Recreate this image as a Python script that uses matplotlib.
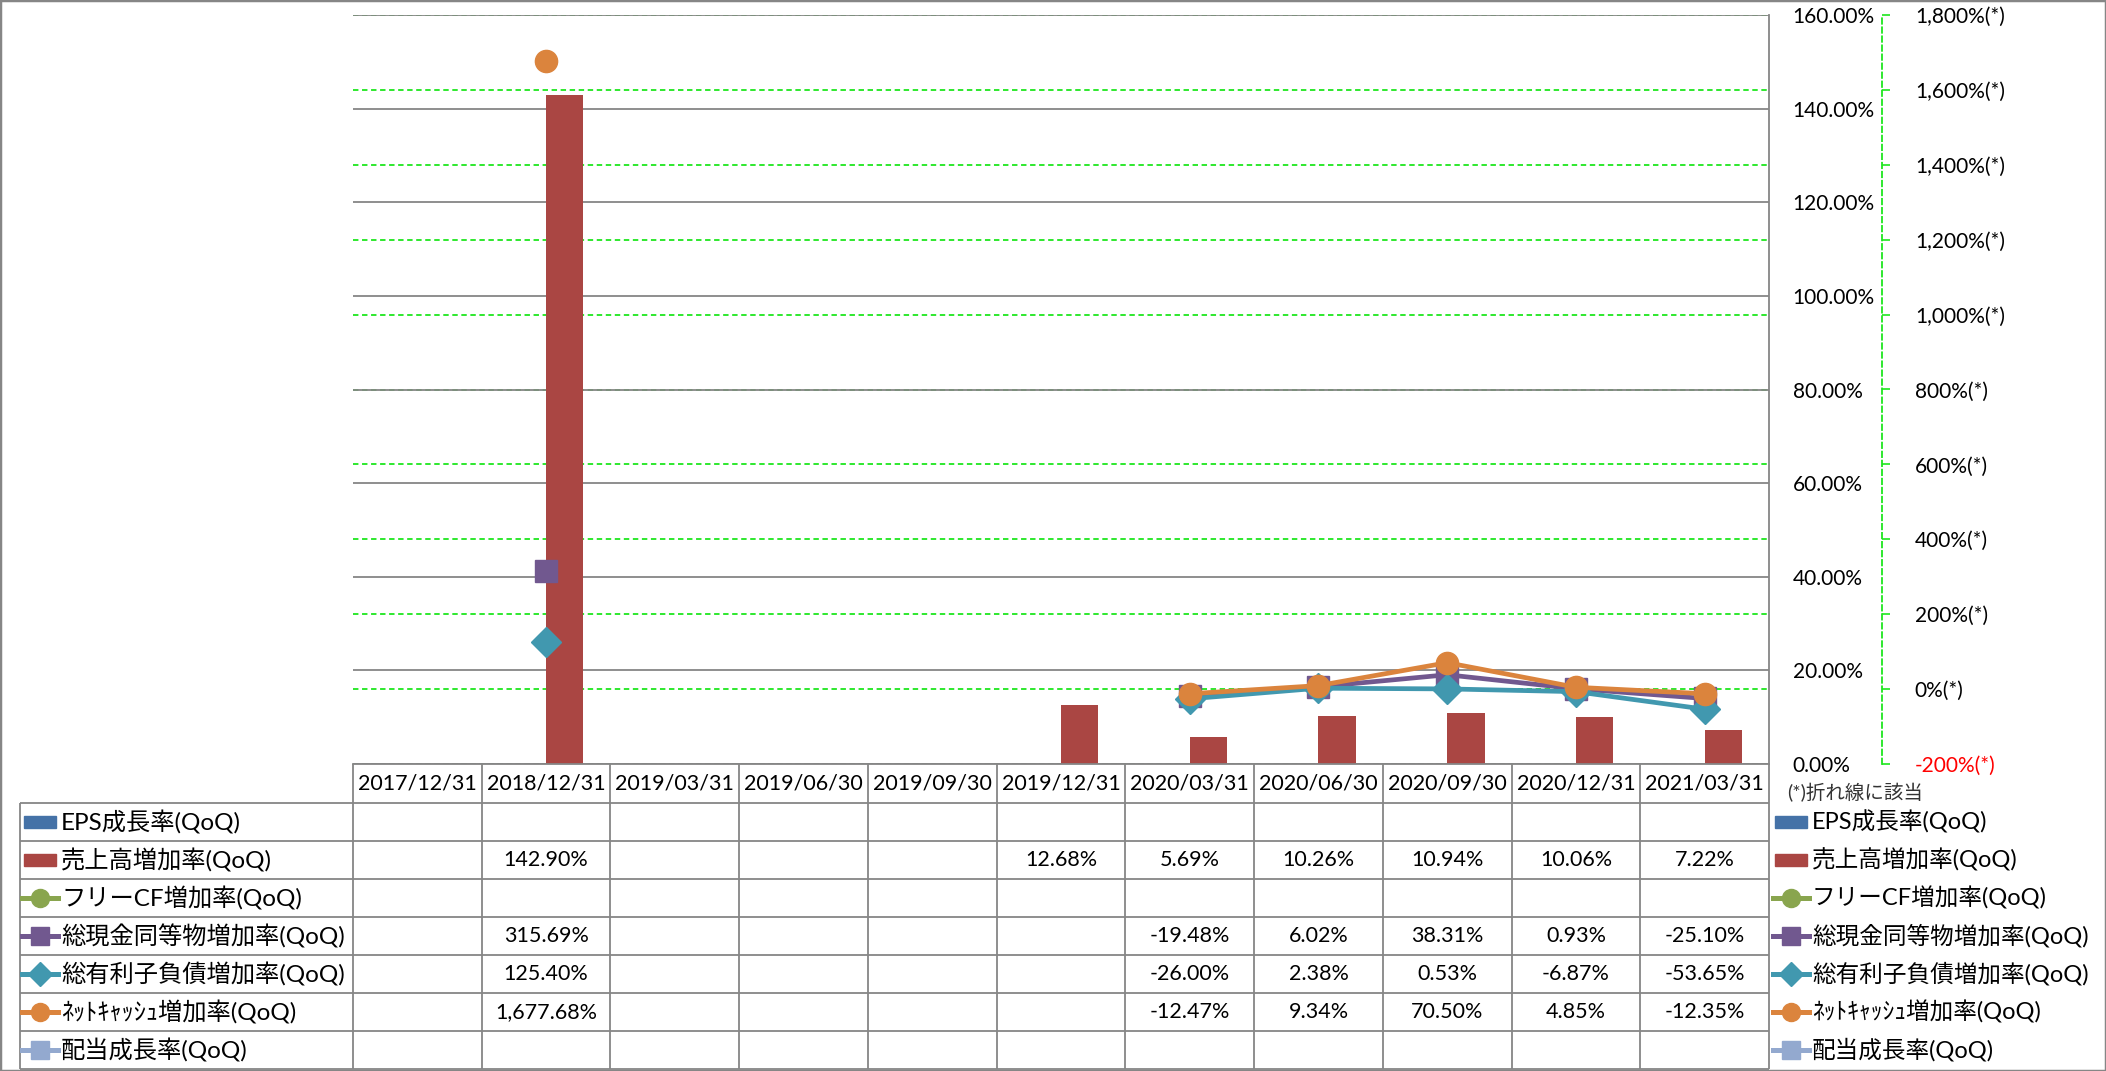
import numpy as np
import matplotlib
matplotlib.use('Agg')
import matplotlib.pyplot as plt
import matplotlib.patches as mpatches
import matplotlib.transforms as mtransforms

plt.rcParams['font.family'] = ['Lato', 'Noto Sans CJK JP', 'DejaVu Sans']

nan = np.nan
dates = ['2017/12/31', '2018/12/31', '2019/03/31', '2019/06/30', '2019/09/30', '2019/12/31',
         '2020/03/31', '2020/06/30', '2020/09/30', '2020/12/31', '2021/03/31']
eps_growth = [nan] * 11
sales_growth = [nan, 142.90, nan, nan, nan, 12.68, 5.69, 10.26, 10.94, 10.06, 7.22]
fcf_growth = [nan] * 11
cash_growth = [nan, 315.69, nan, nan, nan, nan, -19.48, 6.02, 38.31, 0.93, -25.10]
debt_growth = [nan, 125.40, nan, nan, nan, nan, -26.00, 2.38, 0.53, -6.87, -53.65]
netcash_growth = [nan, 1677.68, nan, nan, nan, nan, -12.47, 9.34, 70.50, 4.85, -12.35]
div_growth = [nan] * 11

names = ['EPS成長率(QoQ)', '売上高増加率(QoQ)', 'フリーCF増加率(QoQ)', '総現金同等物増加率(QoQ)',
         '総有利子負債増加率(QoQ)', 'ﾈｯﾄｷｬｯｼｭ増加率(QoQ)', '配当成長率(QoQ)']
colors = ['#4572A7', '#AA4643', '#89A54E', '#71588F', '#4198AF', '#DB843D', '#93A9CF']
kinds = ['bar', 'bar', 'o', 's', 'D', 'o', 's']
series = [eps_growth, sales_growth, fcf_growth, cash_growth, debt_growth, netcash_growth, div_growth]

W, H = 2106, 1071
fig = plt.figure(figsize=(W / 100, H / 100), dpi=100)
rect = [353 / W, 1 - 764 / H, (1769 - 353) / W, (764 - 15) / H]
grey = '#868686'
green = '#1EE61E'

# green grid of the secondary scale, kept behind the bars
ax_g = fig.add_axes(rect)
ax_g.set_ylim(-200, 1800)
ax_g.set_yticks(np.arange(-200, 1801, 200))
ax_g.set_xticks([])
ax_g.tick_params(length=0, labelleft=False)
ax_g.grid(axis='y', color=green, lw=1.3, linestyle=(0, (3, 2)))
for s in ax_g.spines.values():
    s.set_visible(False)

ax = fig.add_axes(rect)
ax.patch.set_visible(False)
ax.set_ylim(0, 160)
ax.set_xticks([])
ax.set_axisbelow(True)
ax.grid(axis='y', color=grey, lw=1.3)
for k in ['left', 'top']:
    ax.spines[k].set_visible(False)
ax.spines['right'].set_color(grey)
ax.spines['bottom'].set_color(grey)
ax.spines['right'].set_linewidth(1.3)
ax.spines['bottom'].set_linewidth(1.3)

idx = np.arange(len(dates))
bw = 0.29
ax.bar(idx - bw, eps_growth, bw, align='edge', color=colors[0])
ax.bar(idx, sales_growth, bw, align='edge', color=colors[1])

ax2 = ax.twinx()
ax2.spines['right'].set_position(('outward', 81))
ax2.spines['right'].set_color(green)
ax2.spines['right'].set_linestyle((0, (3, 2)))
ax2.spines['right'].set_linewidth(1.3)
for k in ['left', 'top', 'bottom']:
    ax2.spines[k].set_visible(False)

# primary axis labels sit on the right (twinx moved them left)
ax.yaxis.tick_right()
prim_ticks = np.arange(0, 161, 20)
ax.set_yticks(prim_ticks)
ax.set_yticklabels(['%.2f%%' % v for v in prim_ticks])
ax.tick_params(axis='y', length=0, pad=17, labelsize=15, labelleft=False, labelright=True)

ax2.set_ylim(-200, 1800)
sec_ticks = np.arange(-200, 1801, 200)
ax2.set_yticks(sec_ticks)
ax2.set_yticklabels(['{:,}%(*)'.format(v) for v in sec_ticks])
ax2.tick_params(axis='y', color=green, length=6, width=1.2, pad=18, labelsize=15)

for vals, c, m in zip(series[2:], colors[2:], kinds[2:]):
    ms = 15 if m == 'D' else 16
    ax2.plot(idx, vals, color=c, marker=m, lw=3.4, ms=ms, clip_on=False)

ax.set_xlim(-0.5, len(dates) - 0.5)
ax2.set_xlim(-0.5, len(dates) - 0.5)
ax_g.set_xlim(-0.5, len(dates) - 0.5)

# table below the plot (x from categories, y in figure pixels)
tpx = mtransforms.Affine2D().scale(1 / W, -1 / H).translate(0, 1) + fig.transFigure
bt = mtransforms.blended_transform_factory(ax.transData, tpx)
col_w = (1769 - 353) / len(dates)
x_left = -0.5 - (353 - 20) / col_w
top, head_b, row_h = 764, 803, 38
bottom = head_b + row_h * len(names)

lk = dict(color=grey, lw=1.3, clip_on=False, solid_capstyle='butt')
for r in range(len(names) + 1):
    y = head_b + row_h * r
    ax.plot([x_left, len(dates) - 0.5], [y, y], transform=bt, **lk)
for i in range(len(dates) + 1):
    ax.plot([i - 0.5, i - 0.5], [top, bottom], transform=bt, **lk)
ax.plot([x_left, x_left], [head_b, bottom], transform=bt, **lk)

for i, d in enumerate(dates):
    ax.text(i, (top + head_b) / 2, d, transform=bt, ha='center', va='center', fontsize=15.5)
for r, vals in enumerate(series):
    yc = head_b + row_h * r + row_h / 2
    for i, v in enumerate(vals):
        if not np.isnan(v):
            ax.text(i, yc, '{:,.2f}%'.format(v), transform=bt, ha='center', va='center', fontsize=15.5)


def swatch(x0, yc, c, kind):
    if kind == 'bar':
        fig.add_artist(mpatches.Rectangle((x0 + 2, yc - 6), 32, 12, transform=tpx, color=c))
    else:
        fig.add_artist(plt.Line2D([x0, x0 + 36], [yc, yc], transform=tpx, color=c, lw=3.6))
        fig.add_artist(plt.Line2D([x0 + 18], [yc], transform=tpx, color=c, marker=kind,
                                  ms=13 if kind != 'D' else 12, lw=0))


for r, (nm, c, kd) in enumerate(zip(names, colors, kinds)):
    yc = head_b + row_h * r + row_h / 2
    swatch(22, yc, c, kd)
    fig.text(61 / W, 1 - yc / H, nm, ha='left', va='center', fontsize=17.5)
    swatch(1773, yc, c, kd)
    fig.text(1812 / W, 1 - yc / H, nm, ha='left', va='center', fontsize=17)

fig.text(1787 / W, 1 - 793 / H, '(*)折れ線に該当', ha='left', va='center', fontsize=14, color='#333333')

fig.add_artist(mpatches.Rectangle((0, 0), 1, 1, transform=fig.transFigure, fill=False,
                                  edgecolor=grey, lw=2.5))

ax2.get_yticklabels()[0].set_color('red')

fig.savefig('out.png', dpi=100)
